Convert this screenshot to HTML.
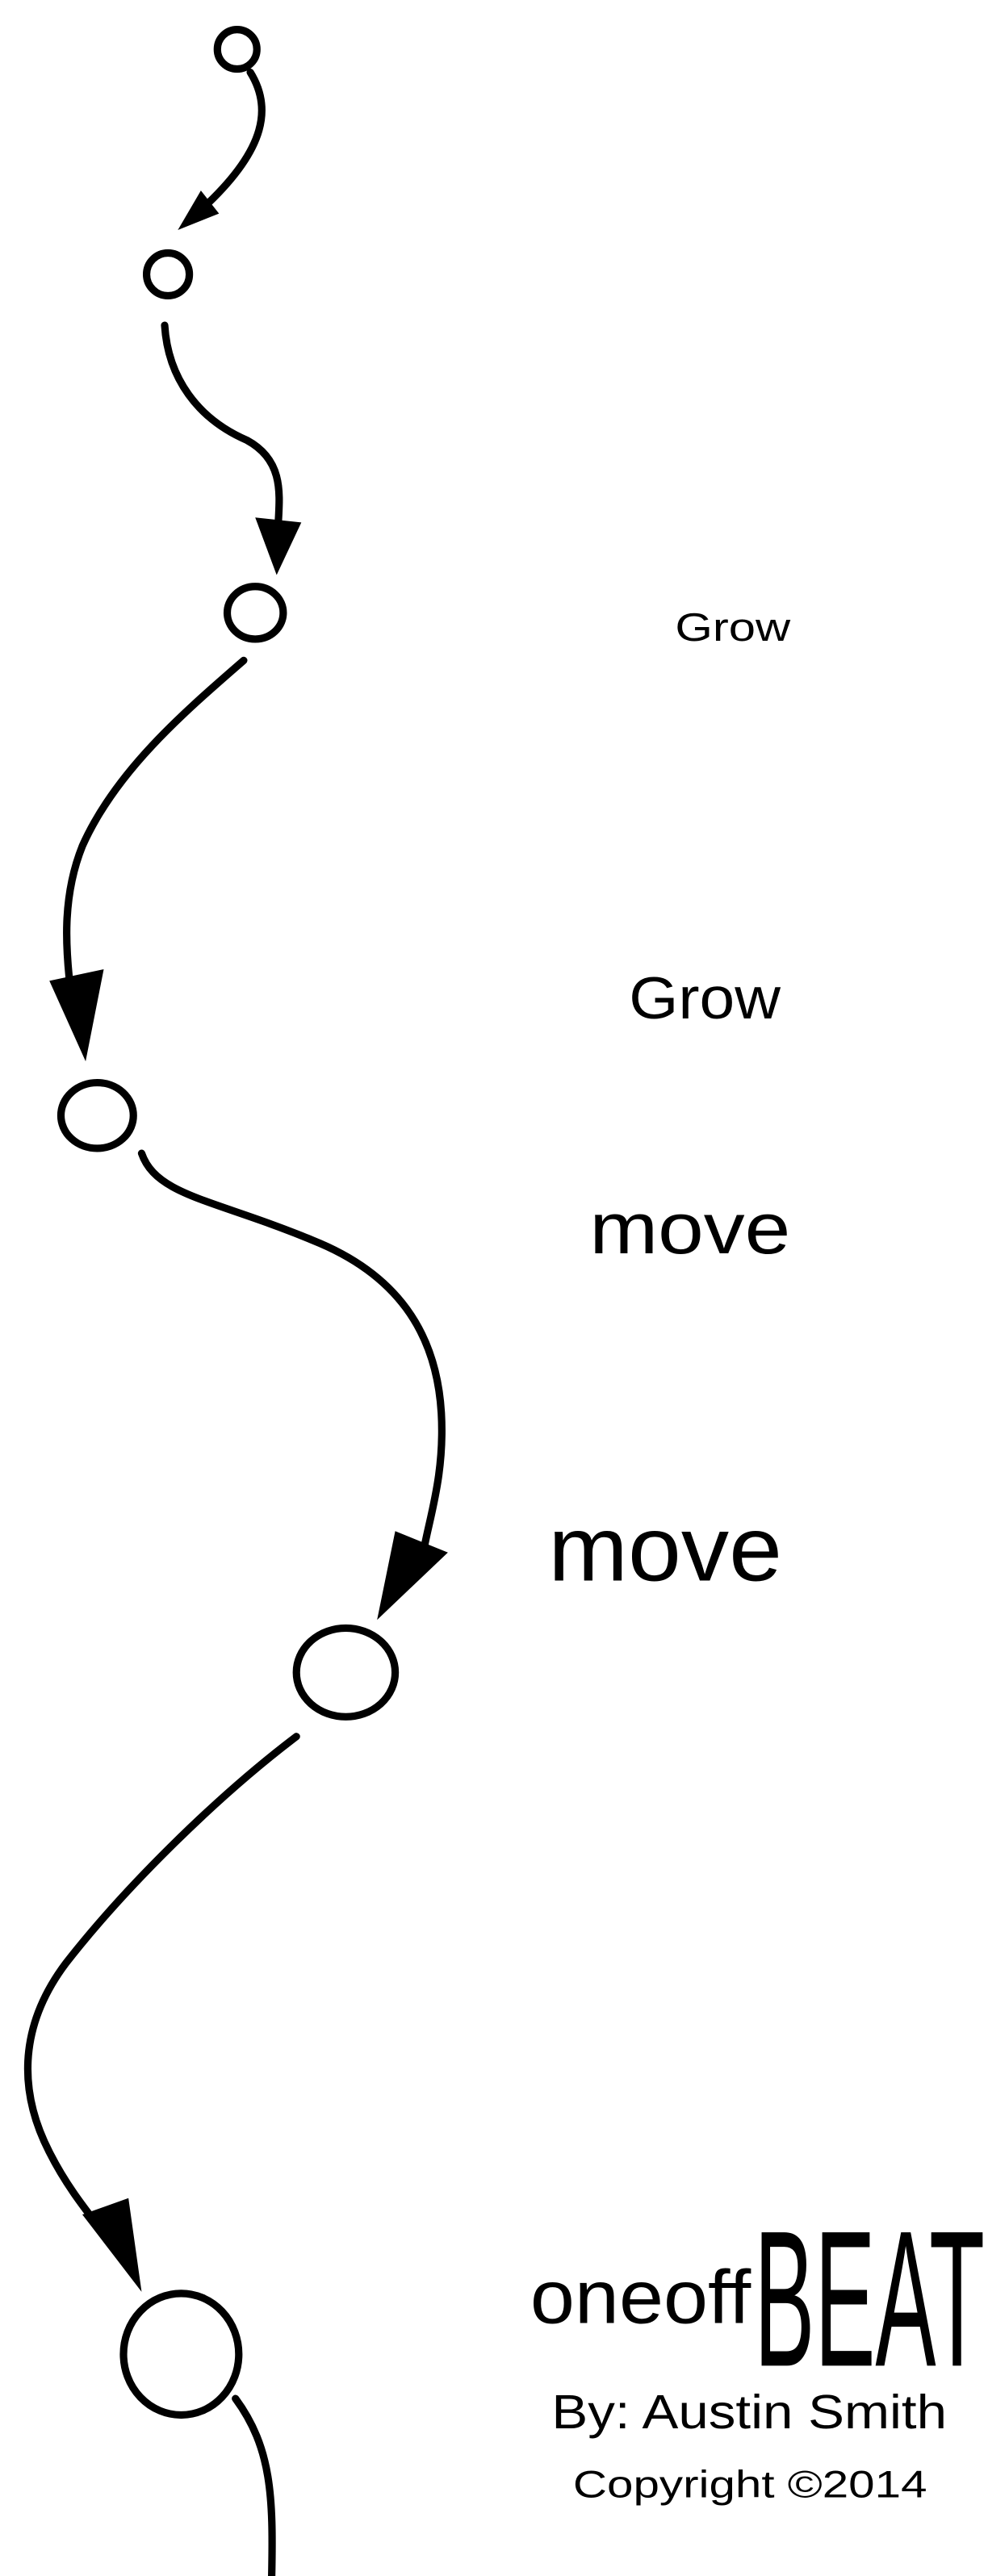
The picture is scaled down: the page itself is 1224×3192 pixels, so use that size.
<!DOCTYPE html>
<html><head><meta charset="utf-8"><style>
html,body{margin:0;padding:0;background:#fff;}
svg{display:block;}
</style></head><body>
<svg width="1224" height="3192" viewBox="0 0 600 1568" preserveAspectRatio="none" xmlns="http://www.w3.org/2000/svg">
<g fill="none" stroke="#000" stroke-width="4.5" stroke-linecap="round">
<circle cx="144" cy="30" r="12"/>
<path d="M152 44 C165 65 162 90 125 125"/>
<circle cx="102" cy="167" r="13"/>
<path d="M100 198 C102 230 120 255 150 268 C172 280 170 300 169 318"/>
<ellipse cx="155" cy="373" rx="17" ry="16"/>
<path d="M148 402 C110 435 70 470 50 515 C38 545 40 575 42 595"/>
<ellipse cx="59" cy="679" rx="22" ry="20"/>
<path d="M86 702 C95 728 130 730 190 755 C240 775 265 810 268 860 C270 895 262 920 258 940"/>
<ellipse cx="210" cy="1018" rx="30" ry="27"/>
<path d="M180 1057 C130 1095 75 1150 40 1195 C10 1235 12 1275 30 1310 C40 1330 52 1345 62 1358"/>
<ellipse cx="110" cy="1433" rx="35" ry="37"/>
<path d="M143 1460 C165 1490 166 1520 165 1568"/>
</g>
<g fill="#000">
<polygon points="108,140 122,116 133,130"/>
<polygon points="155,315 183,318 168,350"/>
<polygon points="30,597 63,590 52,646"/>
<polygon points="240,932 272,945 229,986"/>
<polygon points="50,1348 78,1338 86,1395"/>
</g>
<g font-family="'Liberation Sans', sans-serif" fill="#000">
<text x="410" y="390" font-size="24" textLength="70" lengthAdjust="spacingAndGlyphs">Grow</text>
<text x="382" y="620" font-size="36" textLength="92" lengthAdjust="spacingAndGlyphs">Grow</text>
<text x="358" y="763" font-size="44" textLength="122" lengthAdjust="spacingAndGlyphs">move</text>
<text x="333" y="962" font-size="56" textLength="142" lengthAdjust="spacingAndGlyphs">move</text>
<text x="322" y="1414" font-size="46" textLength="134" lengthAdjust="spacingAndGlyphs">oneoff</text>
<text x="458" y="1440" font-size="118" textLength="140" lengthAdjust="spacingAndGlyphs">BEAT</text>
<text x="335" y="1478" font-size="29" textLength="240" lengthAdjust="spacingAndGlyphs">By: Austin Smith</text>
<text x="348" y="1520" font-size="23" textLength="215" lengthAdjust="spacingAndGlyphs">Copyright ©2014</text>
</g>
</svg>
</body></html>
